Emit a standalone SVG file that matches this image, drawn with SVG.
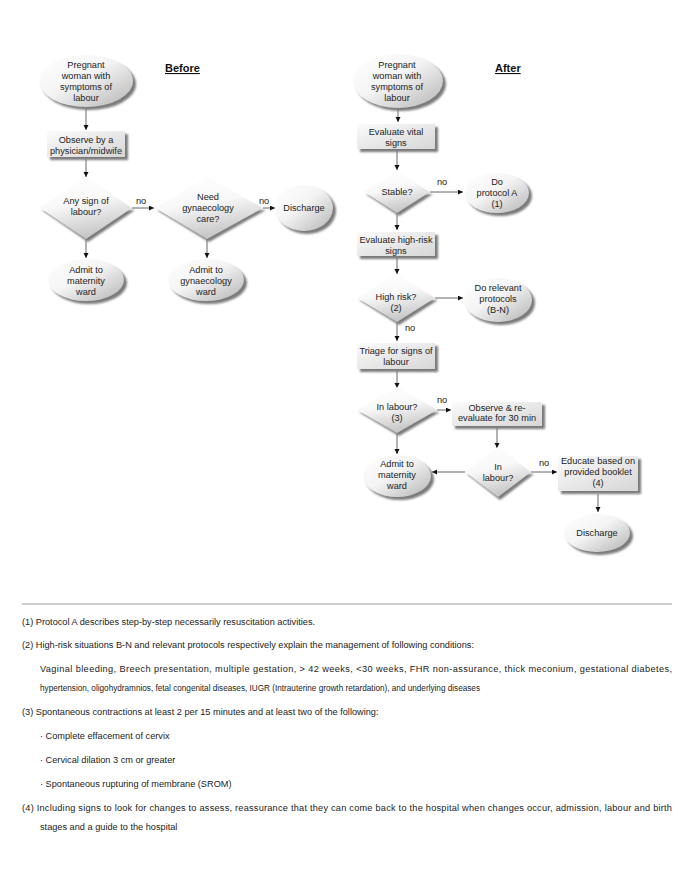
<svg xmlns="http://www.w3.org/2000/svg" width="685" height="886" viewBox="0 0 685 886">
<style>
text{font-family:"Liberation Sans",Arial,sans-serif;font-size:9.2px;fill:#222;}
.c{text-anchor:middle;}
.t{font-size:11px;font-weight:bold;text-decoration:underline;fill:#111;}
.fn{font-size:9.2px;fill:#222;}
.sh{fill:#7a7a7a;filter:url(#blur);}
.el{fill:url(#ge);}
.rc{fill:url(#gr);}
.dm{fill:url(#gd);}
.cn{stroke:#666;stroke-width:1;fill:none;}
.ar{marker-end:url(#ah);}
</style>
<defs>
<linearGradient id="ge" x1="0" y1="0" x2="1" y2="1">
<stop offset="0" stop-color="#ffffff"/><stop offset="0.45" stop-color="#f4f4f4"/><stop offset="1" stop-color="#b4b4b4"/>
</linearGradient>
<linearGradient id="gr" x1="0" y1="0" x2="1" y2="1">
<stop offset="0" stop-color="#fbfbfb"/><stop offset="1" stop-color="#d6d6d6"/>
</linearGradient>
<linearGradient id="gd" x1="0" y1="0" x2="0.3" y2="1">
<stop offset="0" stop-color="#ffffff"/><stop offset="0.5" stop-color="#f8f8f8"/><stop offset="1" stop-color="#c8c8c8"/>
</linearGradient>
<filter id="blur" x="-20%" y="-20%" width="140%" height="140%"><feGaussianBlur stdDeviation="1.1"/></filter>
<marker id="ah" markerUnits="userSpaceOnUse" markerWidth="6" markerHeight="6" refX="5" refY="2.5" orient="auto">
<path d="M0,0 L5,2.5 L0,5 z" fill="#111"/>
</marker>
</defs>

<text class="t" x="165" y="72">Before</text>
<text class="t" x="495" y="72">After</text>

<g id="connectors">
<line class="cn ar" x1="86" y1="108" x2="86" y2="130"/>
<line class="cn ar" x1="86" y1="159" x2="86" y2="177"/>
<line class="cn ar" x1="132" y1="208" x2="154" y2="208"/>
<line class="cn ar" x1="263" y1="208" x2="275" y2="208"/>
<line class="cn ar" x1="86" y1="239" x2="86" y2="258"/>
<line class="cn ar" x1="207" y1="239" x2="207" y2="258"/>
<line class="cn ar" x1="398" y1="108" x2="398" y2="122"/>
<line class="cn ar" x1="397" y1="151" x2="397" y2="170"/>
<line class="cn ar" x1="430" y1="192" x2="463" y2="192"/>
<line class="cn ar" x1="397" y1="213" x2="397" y2="230"/>
<line class="cn ar" x1="397" y1="258" x2="397" y2="274"/>
<line class="cn ar" x1="435" y1="298" x2="463" y2="298"/>
<line class="cn ar" x1="397" y1="322" x2="397" y2="341"/>
<line class="cn ar" x1="397" y1="371" x2="397" y2="388"/>
<line class="cn ar" x1="437" y1="410" x2="451" y2="410"/>
<line class="cn ar" x1="497" y1="428" x2="497" y2="448"/>
<line class="cn ar" x1="465" y1="472" x2="432" y2="472"/>
<line class="cn ar" x1="397" y1="433" x2="397" y2="454"/>
<line class="cn ar" x1="531" y1="472" x2="557" y2="472"/>
<line class="cn ar" x1="598" y1="494" x2="598" y2="512"/>
<text x="136" y="204">no</text>
<text x="259" y="204">no</text>
<text x="437" y="185">no</text>
<text x="405" y="331">no</text>
<text x="437" y="403">no</text>
<text x="539" y="466">no</text>
</g>

<g id="b_start">
<ellipse class="sh" cx="89" cy="84" rx="47" ry="26"/>
<ellipse class="el" cx="86" cy="81" rx="47" ry="26"/>
<text class="c" x="86" y="68">Pregnant</text>
<text class="c" x="86" y="79">woman with</text>
<text class="c" x="86" y="90">symptoms of</text>
<text class="c" x="86" y="101">labour</text>
</g>
<g id="b_observe">
<rect class="sh" x="50" y="134" width="78" height="26"/>
<rect class="rc" x="47" y="131" width="78" height="26"/>
<text class="c" x="86" y="143">Observe by a</text>
<text class="c" x="86" y="154">physician/midwife</text>
</g>
<g id="b_anysign">
<polygon class="sh" points="42,210 135,210 88,242"/>
<polygon class="dm" points="86,177 132,208 86,239 40,208"/>
<text class="c" x="86" y="204">Any sign of</text>
<text class="c" x="86" y="215">labour?</text>
</g>
<g id="b_gyn">
<polygon class="sh" points="157,210 266,210 209,242"/>
<polygon class="dm" points="207,177 263,208 207,239 155,208"/>
<text class="c" x="208" y="200">Need</text>
<text class="c" x="208" y="211">gynaecology</text>
<text class="c" x="208" y="222">care?</text>
</g>
<g id="b_discharge">
<ellipse class="sh" cx="307" cy="211" rx="29" ry="23"/>
<ellipse class="el" cx="304" cy="208" rx="29" ry="23"/>
<text class="c" x="304" y="211">Discharge</text>
</g>
<g id="b_admit_mat">
<ellipse class="sh" cx="89" cy="283" rx="38" ry="21"/>
<ellipse class="el" cx="86" cy="280" rx="38" ry="21"/>
<text class="c" x="86" y="273">Admit to</text>
<text class="c" x="86" y="284">maternity</text>
<text class="c" x="86" y="295">ward</text>
</g>
<g id="b_admit_gyn">
<ellipse class="sh" cx="209" cy="283" rx="38" ry="21"/>
<ellipse class="el" cx="206" cy="280" rx="38" ry="21"/>
<text class="c" x="206" y="273">Admit to</text>
<text class="c" x="206" y="284">gynaecology</text>
<text class="c" x="206" y="295">ward</text>
</g>

<g id="a_start">
<ellipse class="sh" cx="401" cy="84" rx="45" ry="27"/>
<ellipse class="el" cx="398" cy="81" rx="45" ry="27"/>
<text class="c" x="397" y="68">Pregnant</text>
<text class="c" x="397" y="79">woman with</text>
<text class="c" x="397" y="90">symptoms of</text>
<text class="c" x="397" y="101">labour</text>
</g>
<g id="a_vital">
<rect class="sh" x="360" y="127" width="78" height="25"/>
<rect class="rc" x="357" y="124" width="78" height="25"/>
<text class="c" x="396" y="135">Evaluate vital</text>
<text class="c" x="396" y="146">signs</text>
</g>
<g id="a_stable">
<polygon class="sh" points="366,194 433,194 399,216"/>
<polygon class="dm" points="397,171 430,192 397,213 364,192"/>
<text class="c" x="397" y="195">Stable?</text>
</g>
<g id="a_protA">
<ellipse class="sh" cx="500" cy="196" rx="32" ry="20"/>
<ellipse class="el" cx="497" cy="193" rx="32" ry="20"/>
<text class="c" x="497" y="185">Do</text>
<text class="c" x="497" y="196">protocol A</text>
<text class="c" x="497" y="207">(1)</text>
</g>
<g id="a_highrisk_eval">
<rect class="sh" x="360" y="235" width="78" height="24"/>
<rect class="rc" x="357" y="232" width="78" height="24"/>
<text class="c" x="396" y="243">Evaluate high-risk</text>
<text class="c" x="396" y="254">signs</text>
</g>
<g id="a_highrisk">
<polygon class="sh" points="359,300 438,300 399,325"/>
<polygon class="dm" points="397,274 435,298 397,322 357,298"/>
<text class="c" x="396" y="300">High risk?</text>
<text class="c" x="396" y="311">(2)</text>
</g>
<g id="a_protBN">
<ellipse class="sh" cx="501" cy="303" rx="34" ry="22"/>
<ellipse class="el" cx="498" cy="300" rx="34" ry="22"/>
<text class="c" x="498" y="291">Do relevant</text>
<text class="c" x="498" y="302">protocols</text>
<text class="c" x="498" y="313">(B-N)</text>
</g>
<g id="a_triage">
<rect class="sh" x="360" y="346" width="78" height="26"/>
<rect class="rc" x="357" y="343" width="78" height="26"/>
<text class="c" x="396" y="354">Triage for signs of</text>
<text class="c" x="396" y="365">labour</text>
</g>
<g id="a_inlabour1">
<polygon class="sh" points="359,412 440,412 399,436"/>
<polygon class="dm" points="397,387 437,410 397,433 357,410"/>
<text class="c" x="397" y="410">In labour?</text>
<text class="c" x="397" y="421">(3)</text>
</g>
<g id="a_observe">
<rect class="sh" x="455" y="405" width="90" height="24"/>
<rect class="rc" x="452" y="402" width="90" height="24"/>
<text class="c" x="497" y="411">Observe &amp; re-</text>
<text class="c" x="497" y="421">evaluate for 30 min</text>
</g>
<g id="a_inlabour2">
<polygon class="sh" points="467,474 534,474 500,500"/>
<polygon class="dm" points="498,447 531,472 498,497 465,472"/>
<text class="c" x="498" y="470">In</text>
<text class="c" x="498" y="481">labour?</text>
</g>
<g id="a_admit">
<ellipse class="sh" cx="400" cy="479" rx="34" ry="21"/>
<ellipse class="el" cx="397" cy="476" rx="34" ry="21"/>
<text class="c" x="397" y="467">Admit to</text>
<text class="c" x="397" y="478">maternity</text>
<text class="c" x="397" y="489">ward</text>
</g>
<g id="a_educate">
<rect class="sh" x="561" y="459" width="80" height="35"/>
<rect class="rc" x="558" y="456" width="80" height="35"/>
<text class="c" x="598" y="464">Educate based on</text>
<text class="c" x="598" y="475">provided booklet</text>
<text class="c" x="598" y="486">(4)</text>
</g>
<g id="a_discharge">
<ellipse class="sh" cx="600" cy="536" rx="33" ry="19"/>
<ellipse class="el" cx="597" cy="533" rx="33" ry="19"/>
<text class="c" x="597" y="536">Discharge</text>
</g>

<g id="footnotes">
<line x1="22" y1="604" x2="672" y2="604" stroke="#999" stroke-width="1"/>
<text class="fn" x="22" y="625">(1) Protocol A describes step-by-step necessarily resuscitation activities.</text>
<text class="fn" x="22" y="648">(2) High-risk situations B-N and relevant protocols respectively explain the management of following conditions:</text>
<text class="fn" x="40" y="672" textLength="632" lengthAdjust="spacing">Vaginal bleeding, Breech presentation, multiple gestation, &gt; 42 weeks, &lt;30 weeks, FHR non-assurance, thick meconium, gestational diabetes,</text>
<text class="fn" x="40" y="691" textLength="440" lengthAdjust="spacingAndGlyphs">hypertension, oligohydramnios, fetal congenital diseases, IUGR (Intrauterine growth retardation), and underlying diseases</text>
<text class="fn" x="22" y="715">(3) Spontaneous contractions at least 2 per 15 minutes and at least two of the following:</text>
<text class="fn" x="40" y="739">· Complete effacement of cervix</text>
<text class="fn" x="40" y="763">· Cervical dilation 3 cm or greater</text>
<text class="fn" x="40" y="787">· Spontaneous rupturing of membrane (SROM)</text>
<text class="fn" x="22" y="811" textLength="650" lengthAdjust="spacing">(4) Including signs to look for changes to assess, reassurance that they can come back to the hospital when changes occur, admission, labour and birth</text>
<text class="fn" x="40" y="830">stages and a guide to the hospital</text>
</g>
</svg>
